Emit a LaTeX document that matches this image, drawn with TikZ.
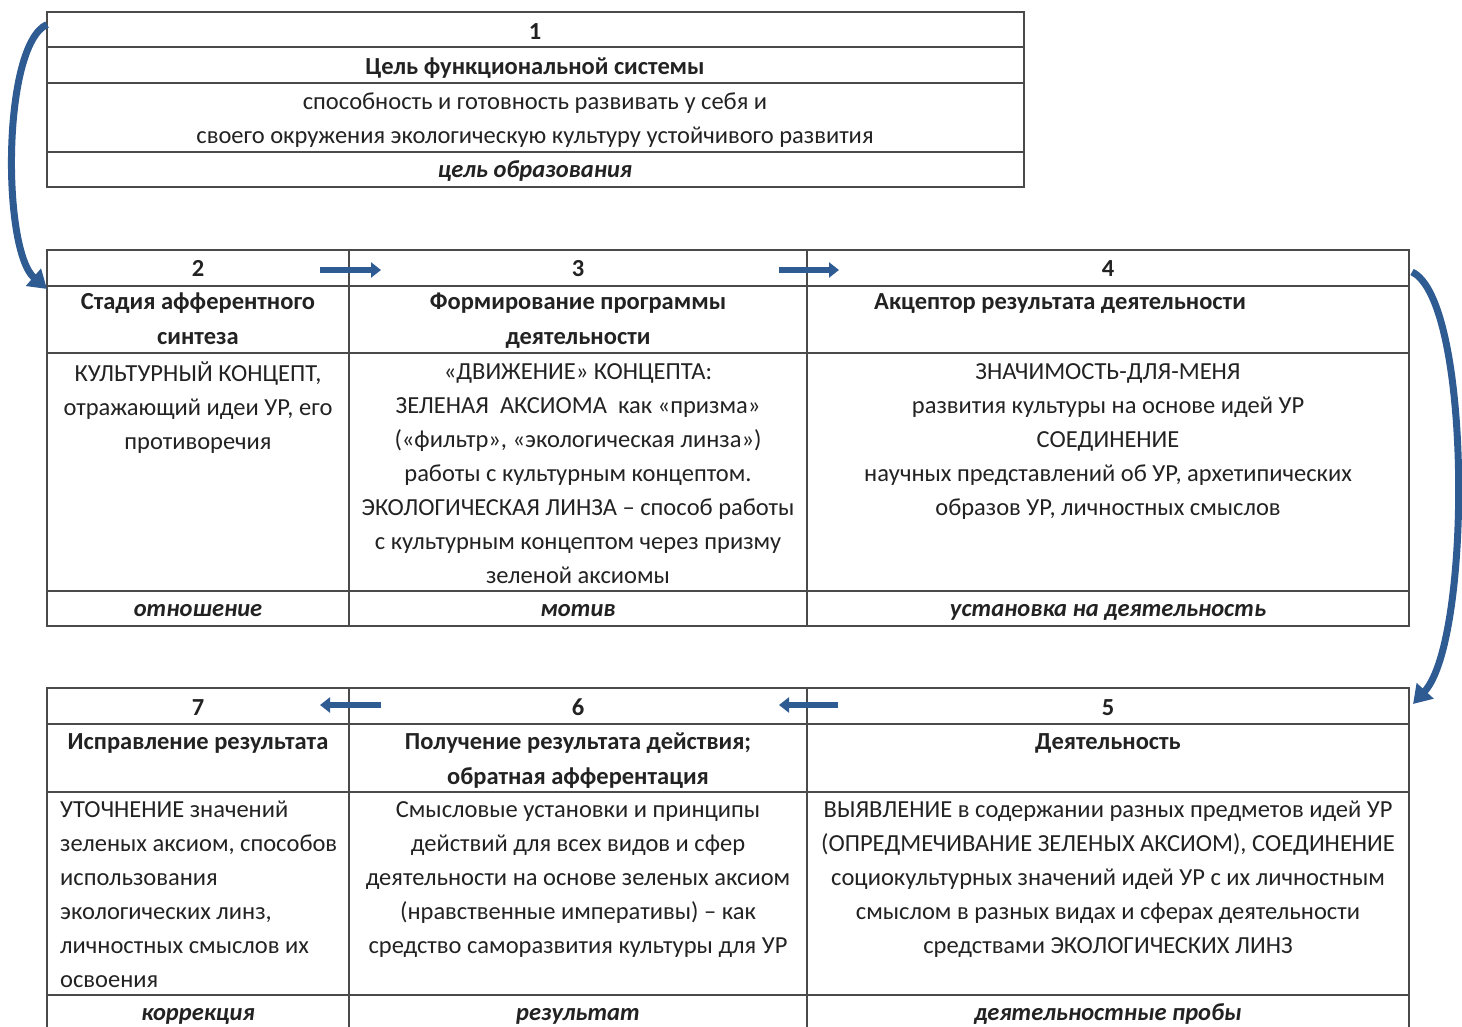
\documentclass[tikz,border=0pt]{standalone}
\usepackage{fontspec}
\setmainfont{Carlito}
\usetikzlibrary{arrows.meta}
\definecolor{gridc}{HTML}{4A4A4A}
\definecolor{arrc}{HTML}{2F5B93}
\definecolor{txtc}{HTML}{222222}
\newcommand\fst{\rule{0pt}{18pt}}
\tikzset{
  cell/.style={draw=gridc, line width=1.8, anchor=north west, inner sep=0, outer sep=0},
  txt/.style={font=\fontsize{24.5}{34}\selectfont, text=txtc, align=center, anchor=north, inner sep=0, yshift=16.5pt},
  txtl/.style={txt, align=left, anchor=north west},
  hd/.style={txt, font=\fontsize{24.5}{34.5}\selectfont\bfseries},
  ft/.style={txt, font=\fontsize{24.5}{34}\selectfont\bfseries\itshape},
  sarrow/.style={draw=arrc, line width=6, -{Triangle[length=10, width=15]}},
  carrow/.style={draw=arrc, line width=7, -{Triangle[length=18, width=22]}}
}
\begin{document}
\begin{tikzpicture}[x=1pt, y=-1pt]
\useasboundingbox (0,0) rectangle (1462,1027);
\clip (0,0) rectangle (1462,1027);
% ---- table 1
\node[cell, minimum width=977, minimum height=35] (r1a) at (47,12) {};
\node[cell, minimum width=977, minimum height=36] (r1b) at (47,47) {};
\node[cell, minimum width=977, minimum height=69] (r1c) at (47,83) {};
\node[cell, minimum width=977, minimum height=35] (r1d) at (47,152) {};
\node[hd] (t1num) at (535,38) {\fst 1};
\node[hd] (t1hd) at (535,73) {\fst Цель функциональной системы};
\node[txt] (t1body) at (535,108) {\fst способность и готовность развивать у себя и\\своего окружения экологическую культуру устойчивого развития};
\node[ft] (t1ft) at (535,176) {\fst цель образования};
% ---- table 2 (stages 2,3,4)
\foreach \n/\x/\w in {2/47/302, 3/349/458, 4/807/602}{
  \node[cell, minimum width=\w, minimum height=36] (c\n num) at (\x,250) {};
  \node[cell, minimum width=\w, minimum height=67] (c\n hd) at (\x,286) {};
  \node[cell, minimum width=\w, minimum height=238] (c\n body) at (\x,353) {};
  \node[cell, minimum width=\w, minimum height=35] (c\n ft) at (\x,591) {};
}
\node[hd] (t2num) at (198,275) {\fst 2};
\node[hd] (t3num) at (578,275) {\fst 3};
\node[hd] (t4num) at (1108,275) {\fst 4};
\node[hd] (t2hd) at (198,308) {\fst Стадия афферентного\\синтеза};
\node[hd] (t3hd) at (578,308) {\fst Формирование программы\\деятельности};
\node[hd] (t4hd) at (1060,308) {\fst Акцептор результата деятельности};
\node[txt] (t2body) at (198,378) {\fst КУЛЬТУРНЫЙ КОНЦЕПТ,\\отражающий идеи УР, его\\противоречия};
\node[txt] (t3body) at (578,378) {\fst «ДВИЖЕНИЕ» КОНЦЕПТА:\\ЗЕЛЕНАЯ\ \ АКСИОМА\ \ как «призма»\\(«фильтр», «экологическая линза»)\\работы с культурным концептом.\\ЭКОЛОГИЧЕСКАЯ ЛИНЗА – способ работы\\с культурным концептом через призму\\зеленой аксиомы};
\node[txt] (t4body) at (1108,378) {\fst ЗНАЧИМОСТЬ-ДЛЯ-МЕНЯ\\развития культуры на основе идей УР\\СОЕДИНЕНИЕ\\научных представлений об УР, архетипических\\образов УР, личностных смыслов};
\node[ft] (t2ft) at (198,615) {\fst отношение};
\node[ft] (t3ft) at (578,615) {\fst мотив};
\node[ft] (t4ft) at (1108,615) {\fst установка на деятельность};
% ---- table 3 (stages 7,6,5)
\foreach \n/\x/\w in {7/47/302, 6/349/458, 5/807/602}{
  \node[cell, minimum width=\w, minimum height=36] (c\n num) at (\x,688) {};
  \node[cell, minimum width=\w, minimum height=68] (c\n hd) at (\x,724) {};
  \node[cell, minimum width=\w, minimum height=203] (c\n body) at (\x,792) {};
  \node[cell, minimum width=\w, minimum height=45] (c\n ft) at (\x,995) {};
}
\node[hd] (t7num) at (198,714) {\fst 7};
\node[hd] (t6num) at (578,714) {\fst 6};
\node[hd] (t5num) at (1108,714) {\fst 5};
\node[hd] (t7hd) at (198,748) {\fst Исправление результата};
\node[hd] (t6hd) at (578,748) {\fst Получение результата действия;\\обратная афферентация};
\node[hd] (t5hd) at (1108,748) {\fst Деятельность};
\node[txtl] (t7body) at (60,816) {\fst УТОЧНЕНИЕ значений\\зеленых аксиом, способов\\использования\\экологических линз,\\личностных смыслов их\\освоения};
\node[txt] (t6body) at (578,816) {\fst Смысловые установки и принципы\\действий для всех видов и сфер\\деятельности на основе зеленых аксиом\\(нравственные императивы) – как\\средство саморазвития культуры для УР};
\node[txt] (t5body) at (1108,816) {\fst ВЫЯВЛЕНИЕ в содержании разных предметов идей УР\\(ОПРЕДМЕЧИВАНИЕ ЗЕЛЕНЫХ АКСИОМ), СОЕДИНЕНИЕ\\социокультурных значений идей УР с их личностным\\смыслом в разных видах и сферах деятельности\\средствами ЭКОЛОГИЧЕСКИХ ЛИНЗ};
\node[ft] (t7ft) at (198,1019) {\fst коррекция};
\node[ft] (t6ft) at (578,1019) {\fst результат};
\node[ft] (t5ft) at (1108,1019) {\fst деятельностные пробы};
% ---- connectors
\draw[sarrow] ([xshift=-29, yshift=-2]c3num.west) -- ([xshift=32, yshift=-2]c3num.west);
\draw[sarrow] ([xshift=-28, yshift=-2]c4num.west) -- ([xshift=32, yshift=-2]c4num.west);
\draw[sarrow] ([xshift=31, yshift=1]c5num.west) -- ([xshift=-28, yshift=1]c5num.west);
\draw[sarrow] ([xshift=32, yshift=1]c6num.west) -- ([xshift=-29, yshift=1]c6num.west);
\draw[carrow] ([yshift=5]r1a.west) .. controls (2,45) and (2,250) .. ([yshift=-3]c2num.south west);
\draw[carrow] ([xshift=3, yshift=-4]c4num.east) .. controls (1472,300) and (1472,640) .. ([xshift=4, yshift=2]c5num.east);
\end{tikzpicture}
\end{document}
